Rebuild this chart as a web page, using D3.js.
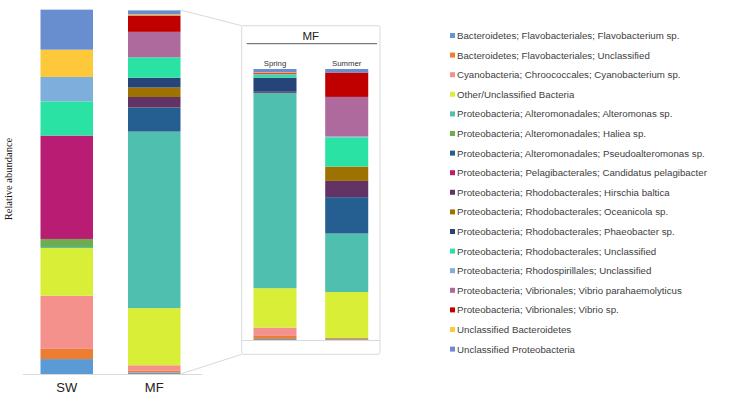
<!DOCTYPE html>
<html>
<head>
<meta charset="utf-8">
<script src="https://cdn.jsdelivr.net/npm/d3@7"></script>
<style>
  body { margin: 0; background: #fff; }
  svg { display: block; font-family: "Liberation Sans", Arial, sans-serif; }
</style>
</head>
<body>
<div id="chart"></div>
<script>
// taxa, bottom to top of each stack (same order as legend)
const taxa = [
  'Bacteroidetes; Flavobacteriales; Flavobacterium sp.',
  'Bacteroidetes; Flavobacteriales; Unclassified',
  'Cyanobacteria; Chroococcales; Cyanobacterium sp.',
  'Other/Unclassified Bacteria',
  'Proteobacteria; Alteromonadales; Alteromonas sp.',
  'Proteobacteria; Alteromonadales; Haliea sp.',
  'Proteobacteria; Alteromonadales; Pseudoalteromonas sp.',
  'Proteobacteria; Pelagibacterales; Candidatus pelagibacter',
  'Proteobacteria; Rhodobacterales; Hirschia baltica',
  'Proteobacteria; Rhodobacterales; Oceanicola sp.',
  'Proteobacteria; Rhodobacterales; Phaeobacter sp.',
  'Proteobacteria; Rhodobacterales; Unclassified',
  'Proteobacteria; Rhodospirillales; Unclassified',
  'Proteobacteria; Vibrionales; Vibrio parahaemolyticus',
  'Proteobacteria; Vibrionales; Vibrio sp.',
  'Unclassified Bacteroidetes',
  'Unclassified Proteobacteria'
];

const taxaColors = [
  '#5b9bd5', '#ed7d31', '#f4918c', '#d9ef37', '#4fbfb0', '#6fab4f',
  '#255e91', '#b91d73', '#633366', '#9e7200', '#264478', '#2ae2a4',
  '#7eaedc', '#ae6a9c', '#c00000', '#fdc83a', '#698ed0'
];

// relative abundance (%) per taxon, same order as taxa
const mainSamples = ['SW', 'MF'];
const swValues = [4.1, 2.8, 14.6, 13.1, 0.3, 2.2, 0, 28.4, 0, 0, 0, 9.4, 6.7, 0, 0, 7.5, 11.0];
const mfValues = [0.4, 0.5, 1.5, 15.7, 48.5, 0, 6.6, 0, 2.9, 2.6, 2.7, 5.6, 0, 7.0, 4.5, 0.3, 1.1];

const insetSamples = ['Spring', 'Summer'];
const springValues = [0.4, 1.1, 3.1, 14.5, 72.1, 0, 0, 0, 0.4, 0, 5.2, 1.0, 0.2, 0.3, 0.4, 0.2, 1.1];
const summerValues = [0.3, 0.4, 0, 17.0, 21.6, 0, 13.4, 0, 6.0, 5.3, 0, 10.8, 0.3, 14.6, 9.0, 0, 1.3];

const width = 735, height = 394;

const svg = d3.select('#chart').append('svg')
  .attr('width', width)
  .attr('height', height);

const color = d3.scaleOrdinal().domain(taxa).range(taxaColors);

function toRows(names, valueLists) {
  return names.map((name, i) => {
    const row = { sample: name };
    taxa.forEach((t, j) => { row[t] = valueLists[i][j]; });
    return row;
  });
}

const stack = d3.stack().keys(taxa);

function drawStacks(g, rows, x, y) {
  const series = stack(rows);
  g.selectAll('g.layer')
    .data(series)
    .join('g')
    .attr('class', 'layer')
    .attr('fill', d => color(d.key))
    .selectAll('rect')
    .data(d => d)
    .join('rect')
    .attr('x', d => x(d.data.sample))
    .attr('width', x.bandwidth())
    .attr('y', d => y(d[1]))
    .attr('height', d => Math.max(0, y(d[0]) - y(d[1])));
}

// ---- main chart (SW, MF)
const xMain = d3.scaleBand().domain(mainSamples).range([23, 198])
  .paddingInner(0.4).paddingOuter(0.2);
const yMain = d3.scaleLinear().domain([0, 100]).range([374, 10]);

const mainG = svg.append('g');
drawStacks(mainG, toRows(mainSamples, [swValues, mfValues]), xMain, yMain);

svg.append('line')
  .attr('x1', 23).attr('x2', 202)
  .attr('y1', yMain(0) + 0.5).attr('y2', yMain(0) + 0.5)
  .attr('stroke', '#d9d9d9');

svg.selectAll('text.xlab')
  .data(mainSamples)
  .join('text')
  .attr('class', 'xlab')
  .attr('x', d => xMain(d) + xMain.bandwidth() / 2)
  .attr('y', 392)
  .attr('text-anchor', 'middle')
  .style('font-size', '13px')
  .attr('fill', '#222')
  .text(d => d);

svg.append('text')
  .attr('transform', 'translate(12,179) rotate(-90)')
  .attr('text-anchor', 'middle')
  .style('font-family', '"Liberation Serif", "Times New Roman", serif')
  .style('font-size', '10.5px')
  .attr('fill', '#111')
  .text('Relative abundance');

// ---- inset (MF by season)
const box = { x: 241.7, y: 25.7, w: 138.3, h: 328.6 };
const xInset = d3.scaleBand().domain(insetSamples).range([box.x, box.x + box.w])
  .paddingInner(0.4).paddingOuter(0.164);
const yInset = d3.scaleLinear().domain([0, 100]).range([340, 69]);

// connector lines from MF bar to inset
const mfRight = xMain('MF') + xMain.bandwidth();
svg.append('line')
  .attr('x1', mfRight).attr('y1', yMain(100))
  .attr('x2', box.x).attr('y2', box.y)
  .attr('stroke', '#d9d9d9');
svg.append('line')
  .attr('x1', mfRight).attr('y1', yMain(0))
  .attr('x2', box.x).attr('y2', box.y + box.h)
  .attr('stroke', '#d9d9d9');

svg.append('rect')
  .attr('x', box.x).attr('y', box.y)
  .attr('width', box.w).attr('height', box.h)
  .attr('rx', 2)
  .attr('fill', '#fff')
  .attr('stroke', '#d9d9d9');

svg.append('text')
  .attr('x', box.x + box.w / 2)
  .attr('y', 39.5)
  .attr('text-anchor', 'middle')
  .style('font-size', '11.5px')
  .attr('fill', '#222')
  .text('MF');

svg.append('line')
  .attr('x1', box.x + 5).attr('x2', box.x + box.w - 3)
  .attr('y1', 43.7).attr('y2', 43.7)
  .attr('stroke', '#595959');

const insetG = svg.append('g');
drawStacks(insetG, toRows(insetSamples, [springValues, summerValues]), xInset, yInset);

svg.append('line')
  .attr('x1', box.x).attr('x2', box.x + box.w)
  .attr('y1', yInset(0) + 0.5).attr('y2', yInset(0) + 0.5)
  .attr('stroke', '#d9d9d9');

svg.selectAll('text.season')
  .data(insetSamples)
  .join('text')
  .attr('class', 'season')
  .attr('x', d => xInset(d) + xInset.bandwidth() / 2)
  .attr('y', 66)
  .attr('text-anchor', 'middle')
  .style('font-size', '7.8px')
  .attr('fill', '#333')
  .text(d => d);

// ---- legend
const legend = svg.append('g').attr('transform', 'translate(450,35.5)');
const rowH = 19.6;

legend.selectAll('rect')
  .data(taxa)
  .join('rect')
  .attr('x', 0)
  .attr('y', (d, i) => i * rowH - 2.5)
  .attr('width', 5)
  .attr('height', 5)
  .attr('fill', d => color(d));

legend.selectAll('text')
  .data(taxa)
  .join('text')
  .attr('x', 7)
  .attr('y', (d, i) => i * rowH + 3.5)
  .style('font-size', '9.7px')
  .attr('fill', '#404040')
  .text(d => d);
</script>
</body>
</html>
